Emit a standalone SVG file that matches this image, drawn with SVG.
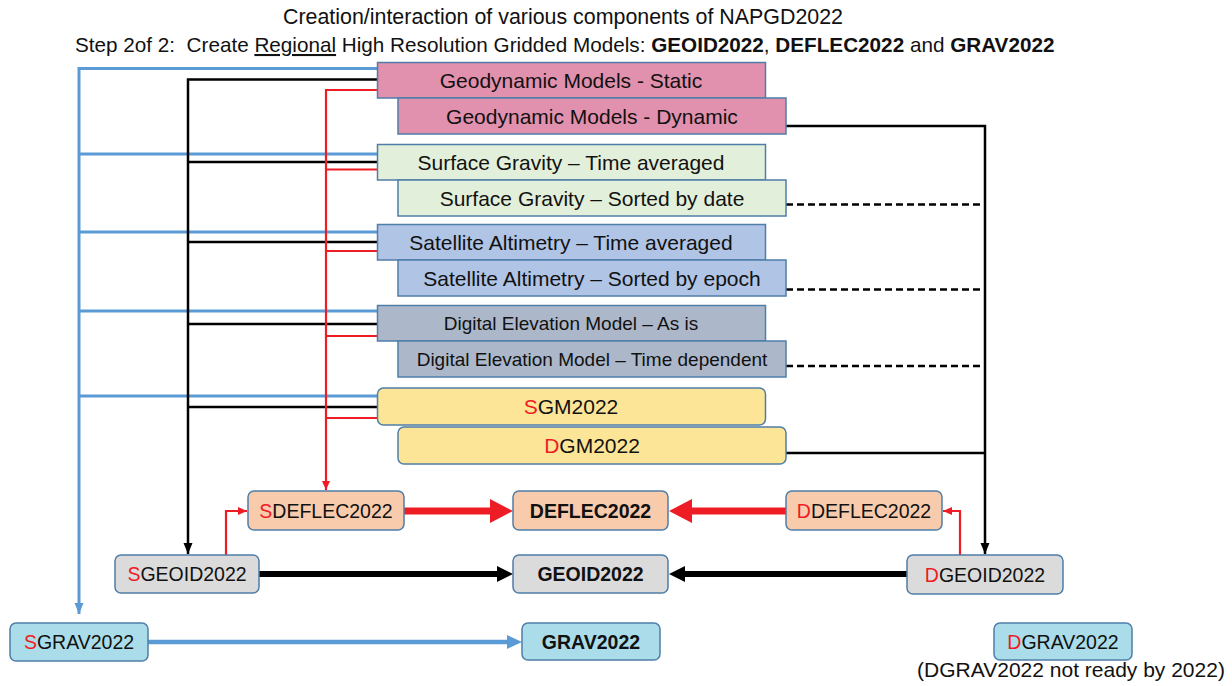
<svg xmlns="http://www.w3.org/2000/svg" width="1232" height="686" viewBox="0 0 1232 686">
<style>
text{font-family:"Liberation Sans",Arial,sans-serif;fill:#111;}
.t{font-size:21px;text-anchor:middle;}
.d{font-size:19px;text-anchor:middle;}
.b{font-size:19.5px;text-anchor:middle;}
.bb{font-size:19.5px;text-anchor:middle;font-weight:bold;}
.r{fill:#ee1c25;}
.box{stroke:#4f7ea8;stroke-width:1.5;}
.pink{fill:#e190ad;}
.green{fill:#e2efda;}
.blue{fill:#b0c4e6;}
.slate{fill:#acb8ca;}
.yellow{fill:#fde597;}
.peach{fill:#f8cbad;}
.gray{fill:#dcdbdb;}
.cyan{fill:#aadde9;}
.lb{stroke:#5b9bd5;stroke-width:3;fill:none;}
.lk{stroke:#000;stroke-width:2.5;fill:none;}
.lr{stroke:#ee1c25;stroke-width:2.2;fill:none;}
.dash{stroke:#000;stroke-width:2.5;fill:none;stroke-dasharray:7 4;}
</style>
<defs>
<marker id="ak" markerUnits="userSpaceOnUse" markerWidth="12" markerHeight="12" viewBox="0 0 12 12" refX="11" refY="6" orient="auto"><path d="M0,1.5 L11,6 L0,10.5 z" fill="#000"/></marker>
<marker id="ar" markerUnits="userSpaceOnUse" markerWidth="10" markerHeight="10" viewBox="0 0 10 10" refX="9" refY="5" orient="auto"><path d="M0,1 L9,5 L0,9 z" fill="#ee1c25"/></marker>
<marker id="ab" markerUnits="userSpaceOnUse" markerWidth="12" markerHeight="12" viewBox="0 0 12 12" refX="11" refY="6" orient="auto"><path d="M0,1.5 L11,6 L0,10.5 z" fill="#5b9bd5"/></marker>
</defs>

<g id="title">
<text x="563" y="24" style="font-size:21.4px;text-anchor:middle">Creation/interaction of various components of NAPGD2022</text>
<text x="75" y="52" style="font-size:20.7px;white-space:pre">Step 2of 2:  Create <tspan text-decoration="underline">Regional</tspan> High Resolution Gridded Models: <tspan font-weight="bold">GEOID2022</tspan>, <tspan font-weight="bold">DEFLEC2022</tspan> and <tspan font-weight="bold">GRAV2022</tspan></text>
</g>

<g id="connectors">
<path class="lb" d="M377,68.5 H79 V614" marker-end="url(#ab)"/>
<path class="lb" d="M79,154 H377 M79,232 H377 M79,311 H377 M79,396 H377"/>
<path class="lk" d="M377,79.5 H188 V554" marker-end="url(#ak)"/>
<path class="lk" d="M188,162 H377 M188,242 H377 M188,324 H377 M188,407 H377"/>
<path class="lr" d="M377,90 H326 V490" marker-end="url(#ar)"/>
<path class="lr" d="M326,169.5 H377 M326,251 H377 M326,336 H377 M326,418 H377"/>
<path class="lk" d="M786,126 H985 V554" marker-end="url(#ak)"/>
<path class="lk" d="M786,453 H985"/>
<path class="dash" d="M786,204.5 H985 M786,289.5 H985 M786,366 H985"/>
<path class="lr" d="M226,555 V511 H247" marker-end="url(#ar)"/>
<path class="lr" d="M960,555 V511 H943" marker-end="url(#ar)"/>
<path d="M404,511 H492" stroke="#ee1c25" stroke-width="7"/>
<polygon points="490,499 513,511 490,523" fill="#ee1c25"/>
<path d="M786,511 H690" stroke="#ee1c25" stroke-width="7"/>
<polygon points="692,499 669,511 692,523" fill="#ee1c25"/>
<path d="M259,574 H498" stroke="#000" stroke-width="6"/>
<polygon points="497,566 513,574 497,582" fill="#000"/>
<path d="M907,574 H684" stroke="#000" stroke-width="6"/>
<polygon points="685,566 669,574 685,582" fill="#000"/>
<path d="M148,642 H508" stroke="#5b9bd5" stroke-width="4.5"/>
<polygon points="507,635 522,642 507,649" fill="#5b9bd5"/>
</g>

<g id="geo-static"><rect class="box pink" x="377.5" y="62.5" width="388" height="35.5"/><text class="t" x="571" y="87.5">Geodynamic Models - Static</text></g>
<g id="geo-dynamic"><rect class="box pink" x="398" y="98" width="388" height="36"/><text class="t" x="592" y="123.5">Geodynamic Models - Dynamic</text></g>
<g id="sg-avg"><rect class="box green" x="377.5" y="144.5" width="388" height="35.5"/><text class="t" x="571" y="169.5">Surface Gravity – Time averaged</text></g>
<g id="sg-date"><rect class="box green" x="398" y="180" width="388" height="36"/><text class="t" x="592" y="205.5">Surface Gravity – Sorted by date</text></g>
<g id="sa-avg"><rect class="box blue" x="377.5" y="224.5" width="388" height="35.5"/><text class="t" x="571" y="249.5">Satellite Altimetry – Time averaged</text></g>
<g id="sa-epoch"><rect class="box blue" x="398" y="260" width="388" height="36"/><text class="t" x="592" y="285.5">Satellite Altimetry – Sorted by epoch</text></g>
<g id="dem-asis"><rect class="box slate" x="377.5" y="305.5" width="388" height="35.5"/><text class="d" x="571" y="330">Digital Elevation Model – As is</text></g>
<g id="dem-time"><rect class="box slate" x="398" y="341" width="388" height="36"/><text class="d" x="592" y="366">Digital Elevation Model – Time dependent</text></g>
<g id="sgm"><rect class="box yellow" x="377.5" y="388" width="388" height="37" rx="6"/><text class="t" x="571" y="414"><tspan class="r">S</tspan>GM2022</text></g>
<g id="dgm"><rect class="box yellow" x="398" y="427" width="388" height="37" rx="6"/><text class="t" x="592" y="453"><tspan class="r">D</tspan>GM2022</text></g>

<g id="sdeflec"><rect class="box peach" x="248" y="491" width="156" height="39" rx="6"/><text class="b" x="326" y="518"><tspan class="r">S</tspan>DEFLEC2022</text></g>
<g id="deflec"><rect class="box peach" x="513" y="491" width="155" height="39" rx="6"/><text class="bb" x="590.5" y="518">DEFLEC2022</text></g>
<g id="ddeflec"><rect class="box peach" x="786" y="491" width="156" height="39" rx="6"/><text class="b" x="864" y="518"><tspan class="r">D</tspan>DEFLEC2022</text></g>
<g id="sgeoid"><rect class="box gray" x="115" y="555" width="144" height="38" rx="6"/><text class="b" x="187" y="581"><tspan class="r">S</tspan>GEOID2022</text></g>
<g id="geoid"><rect class="box gray" x="513" y="555" width="155" height="38" rx="6"/><text class="bb" x="590.5" y="581">GEOID2022</text></g>
<g id="dgeoid"><rect class="box gray" x="907" y="555" width="156" height="39" rx="6"/><text class="b" x="985" y="582"><tspan class="r">D</tspan>GEOID2022</text></g>
<g id="sgrav"><rect class="box cyan" x="10" y="623" width="138" height="38" rx="6"/><text class="b" x="79" y="649"><tspan class="r">S</tspan>GRAV2022</text></g>
<g id="grav"><rect class="box cyan" x="522" y="623" width="138" height="37" rx="6"/><text class="bb" x="591" y="649">GRAV2022</text></g>
<g id="dgrav"><rect class="box cyan" x="994" y="623" width="138" height="37" rx="6"/><text class="b" x="1063" y="649"><tspan class="r">D</tspan>GRAV2022</text></g>
<g id="note"><text x="1071" y="677" style="font-size:21px;text-anchor:middle">(DGRAV2022 not ready by 2022)</text></g>
</svg>
